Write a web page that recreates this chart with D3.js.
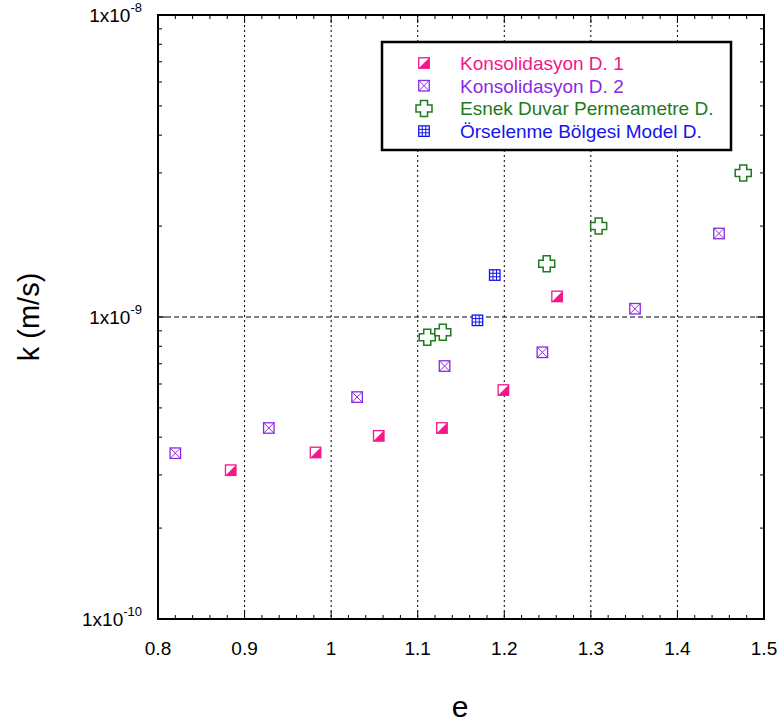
<!DOCTYPE html>
<html>
<head>
<meta charset="utf-8">
<script src="https://cdn.jsdelivr.net/npm/d3@7"></script>
<style>
  body { margin: 0; background: #fff; }
  svg { font-family: "Liberation Sans", Arial, sans-serif; }
</style>
</head>
<body>
<svg id="chart" width="779" height="726"></svg>
<script>
// Void ratio (e) vs permeability k (m/s)
const kons1E = [0.884, 0.982, 1.055, 1.128, 1.199, 1.261];
const kons1K = [3.11e-10, 3.56e-10, 4.04e-10, 4.29e-10, 5.73e-10, 1.17e-9];

const kons2E = [0.820, 0.928, 1.030, 1.131, 1.244, 1.351, 1.448];
const kons2K = [3.54e-10, 4.29e-10, 5.43e-10, 6.88e-10, 7.64e-10, 1.065e-9, 1.89e-9];

const esnekE = [1.111, 1.129, 1.249, 1.309, 1.476];
const esnekK = [8.57e-10, 8.90e-10, 1.50e-9, 2.00e-9, 3.00e-9];

const orselE = [1.169, 1.189];
const orselK = [9.75e-10, 1.377e-9];

const xTicks = [0.8, 0.9, 1.0, 1.1, 1.2, 1.3, 1.4, 1.5];
const yDecades = [-10, -9, -8];

const seriesNames = ["Konsolidasyon D. 1", "Konsolidasyon D. 2", "Esnek Duvar Permeametre D.", "Örselenme Bölgesi Model D."];
const seriesColors = ["#f5168a", "#8a2be2", "#1e7a1e", "#1414f0"];

const svg = d3.select("#chart");
const m = { left: 158, right: 764, top: 15, bottom: 619 };

const x = d3.scaleLinear().domain([0.8, 1.5]).range([m.left, m.right]);
const y = d3.scaleLog().domain([1e-10, 1e-8]).range([m.bottom, m.top]);

// grid
const grid = svg.append("g");
grid.selectAll("line.vg").data(xTicks.slice(1, -1)).join("line")
  .attr("x1", d => x(d)).attr("x2", d => x(d))
  .attr("y1", m.top).attr("y2", m.bottom)
  .attr("stroke", "#000").attr("stroke-width", 1).attr("stroke-dasharray", "2,3");
grid.append("line")
  .attr("x1", m.left).attr("x2", m.right)
  .attr("y1", y(1e-9)).attr("y2", y(1e-9))
  .attr("stroke", "#000").attr("stroke-width", 1).attr("stroke-dasharray", "5,3");

// ticks (inward, all four sides)
const ticks = svg.append("g").attr("stroke", "#000").attr("stroke-width", 1);
const xMinor = d3.range(0.8, 1.5001, 0.02);
xMinor.forEach(v => {
  const major = Math.abs(v * 10 - Math.round(v * 10)) < 1e-6;
  const len = major ? 8 : 4;
  ticks.append("line").attr("x1", x(v)).attr("x2", x(v)).attr("y1", m.bottom).attr("y2", m.bottom - len);
  ticks.append("line").attr("x1", x(v)).attr("x2", x(v)).attr("y1", m.top).attr("y2", m.top + len);
});
const yMinor = [];
[-10, -9].forEach(p => { for (let i = 1; i <= 9; i++) yMinor.push({ v: i * Math.pow(10, p), major: i === 1 }); });
yMinor.push({ v: 1e-8, major: true });
yMinor.forEach(t => {
  const len = t.major ? 8 : 4;
  ticks.append("line").attr("x1", m.left).attr("x2", m.left + len).attr("y1", y(t.v)).attr("y2", y(t.v));
  ticks.append("line").attr("x1", m.right).attr("x2", m.right - len).attr("y1", y(t.v)).attr("y2", y(t.v));
});

// frame
svg.append("rect")
  .attr("x", m.left).attr("y", m.top)
  .attr("width", m.right - m.left).attr("height", m.bottom - m.top)
  .attr("fill", "none").attr("stroke", "#000").attr("stroke-width", 2);

// x tick labels
svg.append("g").selectAll("text").data(xTicks).join("text")
  .attr("x", d => x(d)).attr("y", 655)
  .attr("text-anchor", "middle").attr("font-size", 19)
  .text(d => d3.format("~g")(d));

// y tick labels: 1x10^p
const yl = svg.append("g").selectAll("text").data(yDecades).join("text")
  .attr("x", 142).attr("y", d => y(Math.pow(10, d)) + 7)
  .attr("text-anchor", "end").attr("font-size", 19);
yl.append("tspan").text("1x10");
yl.append("tspan").attr("dy", -10).attr("font-size", 13).text(d => d);

// axis titles
svg.append("text").attr("x", 460).attr("y", 717).attr("text-anchor", "middle")
  .attr("font-size", 30).text("e");
svg.append("text").attr("transform", `translate(39,${y(1e-9)}) rotate(-90)`)
  .attr("text-anchor", "middle").attr("font-size", 29).text("k (m/s)");

// marker drawing
const S = 10.5;
function halfSquare(g, c) {
  g.append("rect").attr("x", -S/2).attr("y", -S/2).attr("width", S).attr("height", S)
    .attr("fill", "#fff").attr("stroke", c).attr("stroke-width", 1.3);
  g.append("path").attr("d", `M${S/2},${-S/2}L${S/2},${S/2}L${-S/2},${S/2}Z`).attr("fill", c);
}
function xSquare(g, c) {
  g.append("rect").attr("x", -S/2).attr("y", -S/2).attr("width", S).attr("height", S)
    .attr("fill", "#fff").attr("stroke", c).attr("stroke-width", 1.3);
  g.append("path").attr("d", `M${-S/2},${-S/2}L${S/2},${S/2}M${S/2},${-S/2}L${-S/2},${S/2}`)
    .attr("stroke", c).attr("stroke-width", 1);
}
function cross(g, c) {
  const a = 8, b = 3.5;
  g.append("path").attr("d",
    `M${-b},${-a}H${b}V${-b}H${a}V${b}H${b}V${a}H${-b}V${b}H${-a}V${-b}H${-b}Z`)
    .attr("fill", "#fff").attr("stroke", c).attr("stroke-width", 1.5);
}
function gridSquare(g, c) {
  g.append("rect").attr("x", -S/2).attr("y", -S/2).attr("width", S).attr("height", S)
    .attr("fill", "#fff").attr("stroke", c).attr("stroke-width", 1.3);
  const t = S / 6;
  g.append("path").attr("d",
    `M${-t},${-S/2}V${S/2}M${t},${-S/2}V${S/2}M${-S/2},${-t}H${S/2}M${-S/2},${t}H${S/2}`)
    .attr("stroke", c).attr("stroke-width", 1);
}
const drawers = [halfSquare, xSquare, cross, gridSquare];
const data = [
  d3.zip(kons1E, kons1K),
  d3.zip(kons2E, kons2K),
  d3.zip(esnekE, esnekK),
  d3.zip(orselE, orselK)
];

data.forEach((pts, i) => {
  const g = svg.append("g");
  pts.forEach(([e, k]) => {
    const mg = g.append("g").attr("transform", `translate(${x(e)},${y(k)})`);
    drawers[i](mg, seriesColors[i]);
  });
});

// legend
const lg = svg.append("g");
lg.append("rect").attr("x", 382).attr("y", 42).attr("width", 349).attr("height", 108)
  .attr("fill", "#fff").attr("stroke", "#000").attr("stroke-width", 2.5);
seriesNames.forEach((name, i) => {
  const cy = 63 + i * 22.7;
  const mg = lg.append("g").attr("transform", `translate(424,${cy})`);
  drawers[i](mg, seriesColors[i]);
  lg.append("text").attr("x", 460).attr("y", cy + 7).attr("font-size", 19)
    .attr("fill", seriesColors[i]).text(name);
});
</script>
</body>
</html>
